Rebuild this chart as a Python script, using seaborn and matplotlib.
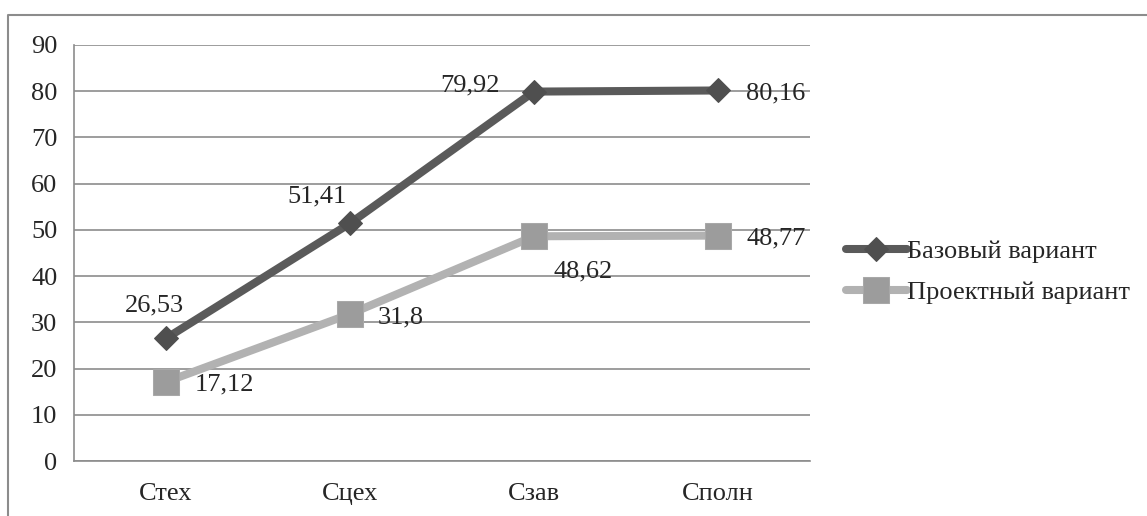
import pandas as pd
import seaborn as sns
import matplotlib.pyplot as plt
from matplotlib.ticker import FixedLocator, MultipleLocator

# данные
categories = ["Стех", "Сцех", "Сзав", "Сполн"]
base_values = [26.53, 51.41, 79.92, 80.16]
proj_values = [17.12, 31.8, 48.62, 48.77]
series_names = ["Базовый вариант", "Проектный вариант"]

# смещения подписей (пиксели)
base_offsets = [(-12, 33), (-33, 27), (-64, 6), (58, -3)]
proj_offsets = [(58, -3), (51, -3), (49, -35), (58, -3)]

FS = 19

sns.set_style("white")
plt.rcParams['font.family'] = ['Liberation Serif', 'DejaVu Serif']
plt.rcParams['font.size'] = FS

fig = plt.figure(figsize=(11.47, 5.16), dpi=100)
ax = fig.add_axes([74 / 1147, 1 - 461 / 516, (810 - 74) / 1147, (461 - 45) / 516])

df = pd.DataFrame({"cat": categories, "base": base_values, "proj": proj_values})
x = list(range(len(categories)))

sns.lineplot(x=x, y=df["base"], ax=ax, color="#5a5a5a", linewidth=5.8,
             marker="D", markersize=12.5, markerfacecolor="#4f4f4f",
             markeredgecolor="#4f4f4f", label=series_names[0], zorder=4)
sns.lineplot(x=x, y=df["proj"], ax=ax, color="#b2b2b2", linewidth=5.8,
             marker="s", markersize=18.5, markerfacecolor="#9c9c9c",
             markeredgecolor="#a8a8a8", label=series_names[1], zorder=3)

for xi, v, off in zip(x, base_values, base_offsets):
    ax.annotate(f"{v:g}".replace(".", ","), (xi, v), xytext=off,
                textcoords="offset pixels", ha="center", va="center", fontsize=FS)
for xi, v, off in zip(x, proj_values, proj_offsets):
    ax.annotate(f"{v:g}".replace(".", ","), (xi, v), xytext=off,
                textcoords="offset pixels", ha="center", va="center", fontsize=FS)

ax.set_xlim(-0.5, 3.5)
ax.set_ylim(0, 90)
ax.yaxis.set_major_locator(MultipleLocator(10))
ax.grid(axis="y", color="#8c8c8c", linewidth=1.2)
ax.set_xticks(x)
ax.set_xticklabels(categories)
ax.xaxis.set_minor_locator(FixedLocator([-0.5, 0.5, 1.5, 2.5, 3.5]))
ax.tick_params(axis="x", which="major", length=0, pad=16)
ax.tick_params(axis="x", which="minor", length=6, width=1.2, color="#8c8c8c", direction="out")
ax.tick_params(axis="y", length=6, width=1.2, color="#8c8c8c", direction="out", pad=6)
ax.set_xlabel("")
ax.set_ylabel("")
for s in ["top", "right"]:
    ax.spines[s].set_visible(False)
for s in ["left", "bottom"]:
    ax.spines[s].set_color("#8c8c8c")
    ax.spines[s].set_linewidth(1.2)

ax.get_legend().remove()
handles, labels = ax.get_legend_handles_labels()
fig.legend(handles, labels, loc="center left", bbox_to_anchor=(846 / 1147, 1 - 272 / 516),
           frameon=False, handlelength=2.3, handletextpad=0.0, labelspacing=0.68,
           fontsize=FS, borderaxespad=0, borderpad=0)

# рамка диаграммы
fig.add_artist(plt.Line2D([8 / 1147, 8 / 1147, 1], [0, 1 - 15 / 516, 1 - 15 / 516],
                          transform=fig.transFigure, color="#8c8c8c", linewidth=1.5))

fig.savefig("out.png", dpi=100)
